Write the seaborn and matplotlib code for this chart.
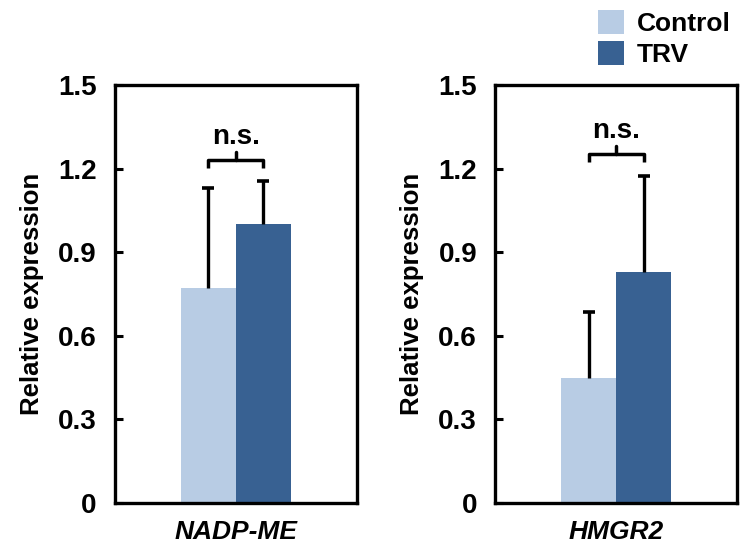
import numpy as np
import pandas as pd
import matplotlib
matplotlib.use('Agg')
import matplotlib.pyplot as plt
import seaborn as sns
from matplotlib.patches import Patch
from matplotlib.ticker import FuncFormatter

# datos
genes = ['NADP-ME', 'HMGR2']
groups = ['Control', 'TRV']
control_mean = [0.77, 0.45]
trv_mean = [1.00, 0.83]
control_err = [0.36, 0.235]
trv_err = [0.155, 0.345]
sig_labels = ['n.s.', 'n.s.']
yticks = [0, 0.3, 0.6, 0.9, 1.2, 1.5]

colors = ['#b8cce4', '#386192']

df = pd.DataFrame({
    'gene': np.repeat(genes, 2),
    'group': groups * len(genes),
    'value': [v for pair in zip(control_mean, trv_mean) for v in pair],
    'err': [v for pair in zip(control_err, trv_err) for v in pair],
})

sns.set_style('white')
plt.rcParams['font.family'] = ['Liberation Sans', 'DejaVu Sans']
plt.rcParams['font.weight'] = 'bold'
plt.rcParams['text.color'] = 'black'
plt.rcParams['axes.labelcolor'] = 'black'
plt.rcParams['xtick.color'] = 'black'
plt.rcParams['ytick.color'] = 'black'

fig = plt.figure(figsize=(7.4, 5.5), dpi=100)
axes = [fig.add_axes([0.155, 0.0855, 0.327, 0.76]),
        fig.add_axes([0.669, 0.0855, 0.327, 0.76])]

# posiciones del corchete (y) para cada panel
bracket_y = [1.232, 1.253]

for i, (ax, gene) in enumerate(zip(axes, genes)):
    sub = df[df.gene == gene]
    sns.barplot(data=sub, x='gene', y='value', hue='group', hue_order=groups,
                palette=colors, saturation=1, width=0.8, linewidth=0,
                errorbar=None, legend=False, ax=ax)
    xs = sorted(p.get_x() + p.get_width() / 2 for p in ax.patches)
    for x, (_, row) in zip(xs, sub.iterrows()):
        eb = ax.errorbar(x, row.value, yerr=[[0], [row.err]], fmt='none',
                         ecolor='black', elinewidth=2.4, capsize=4, capthick=2.6)
        # solo la barra superior lleva tapa
        eb[1][0].set_visible(False)
    # corchete n.s.
    by = bracket_y[i]
    xm = (xs[0] + xs[1]) / 2
    ax.plot([xs[0], xs[0], xs[1], xs[1]], [by - 0.03, by, by, by - 0.03],
            color='black', lw=2.5, solid_capstyle='butt')
    ax.plot([xm, xm], [by, by + 0.028], color='black', lw=2.5)
    ax.text(xm, by + 0.035, sig_labels[i], ha='center', va='bottom',
            fontsize=20, fontweight='bold')

    ax.set_ylim(0, 1.5)
    ax.set_xlim(-0.88, 0.88)
    ax.set_yticks(yticks)
    ax.yaxis.set_major_formatter(FuncFormatter(lambda v, p: '0' if v == 0 else f'{v:.1f}'))
    ax.set_xticks([0])
    ax.set_xticklabels([gene], fontsize=19, fontweight='bold', fontstyle='italic')
    ax.tick_params(axis='x', length=0, pad=12)
    ax.tick_params(axis='y', direction='in', length=6, width=2.2, labelsize=20, pad=13, left=True)
    for lab in ax.get_yticklabels():
        lab.set_fontweight('bold')
    ax.set_xlabel('')
    ax.set_ylabel('Relative expression', fontsize=18.5, fontweight='bold', labelpad=10)
    for s in ax.spines.values():
        s.set_visible(True)
        s.set_linewidth(2.4)
        s.set_color('black')

handles = [Patch(facecolor=c, edgecolor='none', label=g) for c, g in zip(colors, groups)]
fig.legend(handles=handles, loc='upper right', bbox_to_anchor=(1.02, 1.025),
           frameon=False, handlelength=1.0, handleheight=1.0, handletextpad=0.5,
           labelspacing=0.2, prop={'size': 19, 'weight': 'bold'})

fig.savefig('out.png', dpi=100)
